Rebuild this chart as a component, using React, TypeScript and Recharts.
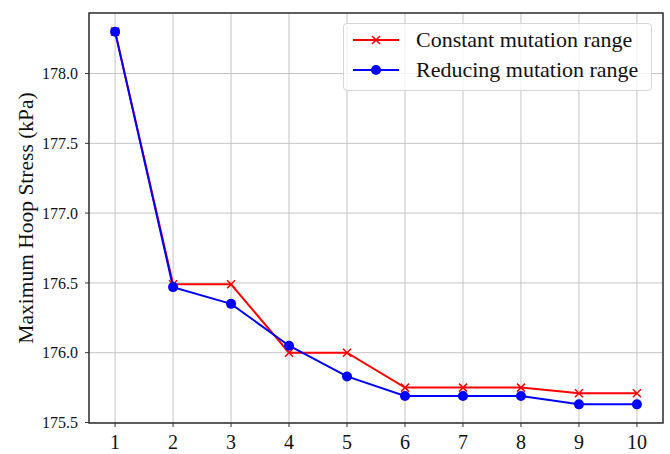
import { LineChart, Line, XAxis, YAxis, CartesianGrid, ReferenceArea } from "recharts";

const ITERATIONS = [1, 2, 3, 4, 5, 6, 7, 8, 9, 10];
const CONSTANT_RANGE = [178.3, 176.49, 176.49, 176.0, 176.0, 175.75, 175.75, 175.75, 175.71, 175.71];
const REDUCING_RANGE = [178.3, 176.47, 176.35, 176.05, 175.83, 175.69, 175.69, 175.69, 175.63, 175.63];
const Y_TICKS = [175.5, 176.0, 176.5, 177.0, 177.5, 178.0];

const SERIES_NAMES = ["Constant mutation range", "Reducing mutation range"];

// matplotlib-style 5% padding around the data
const X_DOMAIN: [number, number] = [0.55, 10.45];
const Y_DOMAIN: [number, number] = [175.4965, 178.4335];

const FONT = "'Liberation Serif', 'Times New Roman', serif";

const data = ITERATIONS.map((it, i) => ({
  it,
  constant: CONSTANT_RANGE[i],
  reducing: REDUCING_RANGE[i],
}));

function CrossDot(props: any) {
  const { cx, cy, index } = props;
  const s = 4;
  return (
    <path
      key={`x-${index}`}
      d={`M${cx - s},${cy - s}L${cx + s},${cy + s}M${cx - s},${cy + s}L${cx + s},${cy - s}`}
      stroke="#ff0000"
      strokeWidth={1.5}
      fill="none"
    />
  );
}

function LegendBox() {
  const rows = [
    { name: SERIES_NAMES[0], color: "#ff0000", marker: "x" },
    { name: SERIES_NAMES[1], color: "#0000ff", marker: "o" },
  ];
  return (
    <div
      style={{
        position: "absolute",
        left: 343,
        top: 23,
        width: 309,
        height: 68,
        border: "1px solid #d6d6d6",
        borderRadius: 4,
        background: "rgba(255,255,255,0.8)",
        fontFamily: FONT,
        fontSize: 22,
        color: "#111",
        boxSizing: "border-box",
        paddingTop: 1,
      }}
    >
      {rows.map((r) => (
        <div key={r.name} style={{ display: "flex", alignItems: "center", height: 30 }}>
          <svg width={64} height={30} style={{ marginLeft: 8, flex: "none" }}>
            <line x1={1} y1={15} x2={47} y2={15} stroke={r.color} strokeWidth={2} />
            {r.marker === "x" ? (
              <path d="M20,11L28,19M20,19L28,11" stroke={r.color} strokeWidth={1.5} />
            ) : (
              <circle cx={24} cy={15} r={5} fill={r.color} />
            )}
          </svg>
          <span style={{ whiteSpace: "nowrap" }}>{r.name}</span>
        </div>
      ))}
    </div>
  );
}

export default function App() {
  return (
    <div style={{ position: "absolute", left: 0, top: 0, width: 670, height: 454, background: "#fff" }}>
      <style>{`.recharts-text { font-family: ${FONT}; }`}</style>
      <LineChart
        width={670}
        height={454}
        data={data}
        margin={{ top: 13, right: 7, left: 0, bottom: 0 }}
        style={{ fontFamily: FONT }}
      >
        <CartesianGrid stroke="#c4c4c4" strokeWidth={1} />
        <XAxis
          dataKey="it"
          type="number"
          domain={X_DOMAIN}
          ticks={ITERATIONS}
          height={31}
          tickSize={4}
          tickMargin={8}
          axisLine={false}
          tickLine={{ stroke: "#333" }}
          tick={{ fill: "#111", fontSize: 20, fontFamily: FONT }}
        />
        <YAxis
          type="number"
          domain={Y_DOMAIN}
          ticks={Y_TICKS}
          width={89}
          tickSize={4}
          tickMargin={7}
          axisLine={false}
          tickLine={{ stroke: "#333" }}
          tickFormatter={(v: number) => v.toFixed(1)}
          tick={{ fill: "#111", fontSize: 16, fontFamily: FONT }}
          label={{
            value: "Maximum Hoop Stress (kPa)",
            angle: -90,
            position: "insideLeft",
            offset: 25,
            style: { textAnchor: "middle", fontSize: 21.5, fill: "#111", fontFamily: FONT },
          }}
        />
        <Line
          type="linear"
          dataKey="constant"
          name={SERIES_NAMES[0]}
          stroke="#ff0000"
          strokeWidth={2}
          dot={<CrossDot />}
          activeDot={false}
          isAnimationActive={false}
        />
        <Line
          type="linear"
          dataKey="reducing"
          name={SERIES_NAMES[1]}
          stroke="#0000ff"
          strokeWidth={2}
          dot={{ r: 5, fill: "#0000ff", stroke: "none" }}
          activeDot={false}
          isAnimationActive={false}
        />
        <ReferenceArea
          x1={X_DOMAIN[0]}
          x2={X_DOMAIN[1]}
          y1={Y_DOMAIN[0]}
          y2={Y_DOMAIN[1]}
          fill="none"
          stroke="#333"
          strokeWidth={1.5}
          ifOverflow="visible"
        />
      </LineChart>
      <LegendBox />
    </div>
  );
}
